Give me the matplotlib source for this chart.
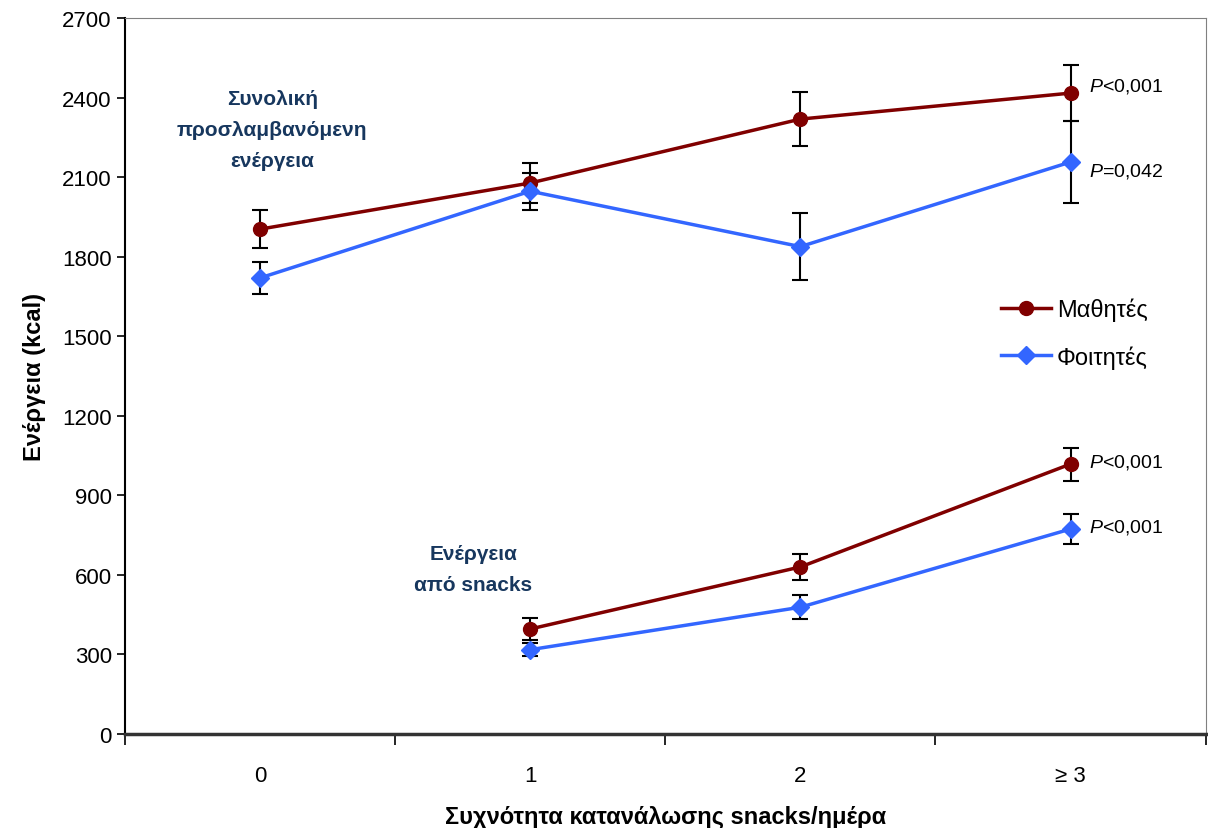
import matplotlib
matplotlib.use("Agg")
import matplotlib.pyplot as plt
from matplotlib.lines import Line2D

plt.rcParams['font.family'] = ['Liberation Sans', 'DejaVu Sans']
plt.rcParams['mathtext.fontset'] = 'custom'
plt.rcParams['mathtext.it'] = 'Liberation Sans:italic'
plt.rcParams['mathtext.rm'] = 'Liberation Sans'

# Δεδομένα
kategories = ['0', '1', '2', '≥ 3']
x = [0, 1, 2, 3]

mathites_synolo = [1904, 2078, 2319, 2417]
mathites_synolo_err = [72, 75, 102, 106]
foitites_synolo = [1720, 2047, 1838, 2157]
foitites_synolo_err = [60, 70, 127, 156]

x_snacks = [1, 2, 3]
mathites_snacks = [396, 630, 1018]
mathites_snacks_err = [40, 50, 62]
foitites_snacks = [318, 478, 773]
foitites_snacks_err = [25, 45, 57]

p_synolo = ['$\\it{P}$<0,001', '$\\it{P}$=0,042']
p_snacks = ['$\\it{P}$<0,001', '$\\it{P}$<0,001']

kokkino = '#800000'
ble = '#3366FF'
skouro_ble = '#17375E'

fig = plt.figure(figsize=(12.08, 8.29), dpi=100)
ax = fig.add_axes([0.1035, 0.1134, 0.8945, 0.8636])

err_kw = dict(ecolor='black', elinewidth=1.5, capsize=6, capthick=1.5)

# Συνολική ενέργεια
ax.errorbar(x, mathites_synolo, yerr=mathites_synolo_err, color=kokkino, lw=2.5,
            marker='o', markersize=10, zorder=3, **err_kw)
ax.errorbar(x, foitites_synolo, yerr=foitites_synolo_err, color=ble, lw=2.5,
            marker='D', markersize=9, zorder=3, **err_kw)

# Ενέργεια από snacks
ax.errorbar(x_snacks, mathites_snacks, yerr=mathites_snacks_err, color=kokkino, lw=2.5,
            marker='o', markersize=10, zorder=3, **err_kw)
ax.errorbar(x_snacks, foitites_snacks, yerr=foitites_snacks_err, color=ble, lw=2.5,
            marker='D', markersize=9, zorder=3, **err_kw)

# P τιμές
ax.text(3.07, mathites_synolo[-1] + 30, p_synolo[0], fontsize=14, va='center')
ax.text(3.07, foitites_synolo[-1] - 30, p_synolo[1], fontsize=14, va='center')
ax.text(3.07, mathites_snacks[-1] + 8, p_snacks[0], fontsize=14, va='center')
ax.text(3.07, foitites_snacks[-1] + 8, p_snacks[1], fontsize=14, va='center')

# Ετικέτες ομάδων
ax.text(0.045, 2281, 'Συνολική\nπροσλαμβανόμενη\nενέργεια', fontsize=15, fontweight='bold',
        color=skouro_ble, ha='center', va='center', linespacing=1.8)
ax.text(0.79, 622, 'Ενέργεια\nαπό snacks', fontsize=15, fontweight='bold',
        color=skouro_ble, ha='center', va='center', linespacing=1.8)

ax.set_xlim(-0.5, 3.5)
ax.set_ylim(0, 2700)
ax.set_yticks(range(0, 2701, 300))
ax.set_xticks(x)
ax.set_xticklabels(kategories)
ax.set_xticks([-0.5, 0.5, 1.5, 2.5, 3.5], minor=True)
ax.tick_params(axis='x', which='major', length=0, labelsize=16, pad=22)
ax.tick_params(axis='x', which='minor', length=8, width=1.2, direction='out')
ax.tick_params(axis='y', labelsize=16, length=6, width=1.2, direction='out')

ax.spines['top'].set_color('#808080')
ax.spines['right'].set_color('#808080')
ax.spines['left'].set_linewidth(1.5)
ax.spines['bottom'].set_linewidth(2.5)
ax.spines['bottom'].set_color('#333333')

ax.set_xlabel('Συχνότητα κατανάλωσης snacks/ημέρα', fontsize=17, fontweight='bold', labelpad=14)
ax.set_ylabel('Ενέργεια (kcal)', fontsize=17, fontweight='bold', labelpad=12)

handles = [Line2D([], [], color=kokkino, lw=2.5, marker='o', markersize=10),
           Line2D([], [], color=ble, lw=2.5, marker='D', markersize=9)]
ax.legend(handles, ['Μαθητές', 'Φοιτητές'], loc='upper left', bbox_to_anchor=(0.811, 0.609),
          frameon=False, fontsize=17, handlelength=2.1, labelspacing=1.0, handletextpad=0.25,
          borderpad=0, borderaxespad=0)

fig.savefig('out.png', dpi=100)
